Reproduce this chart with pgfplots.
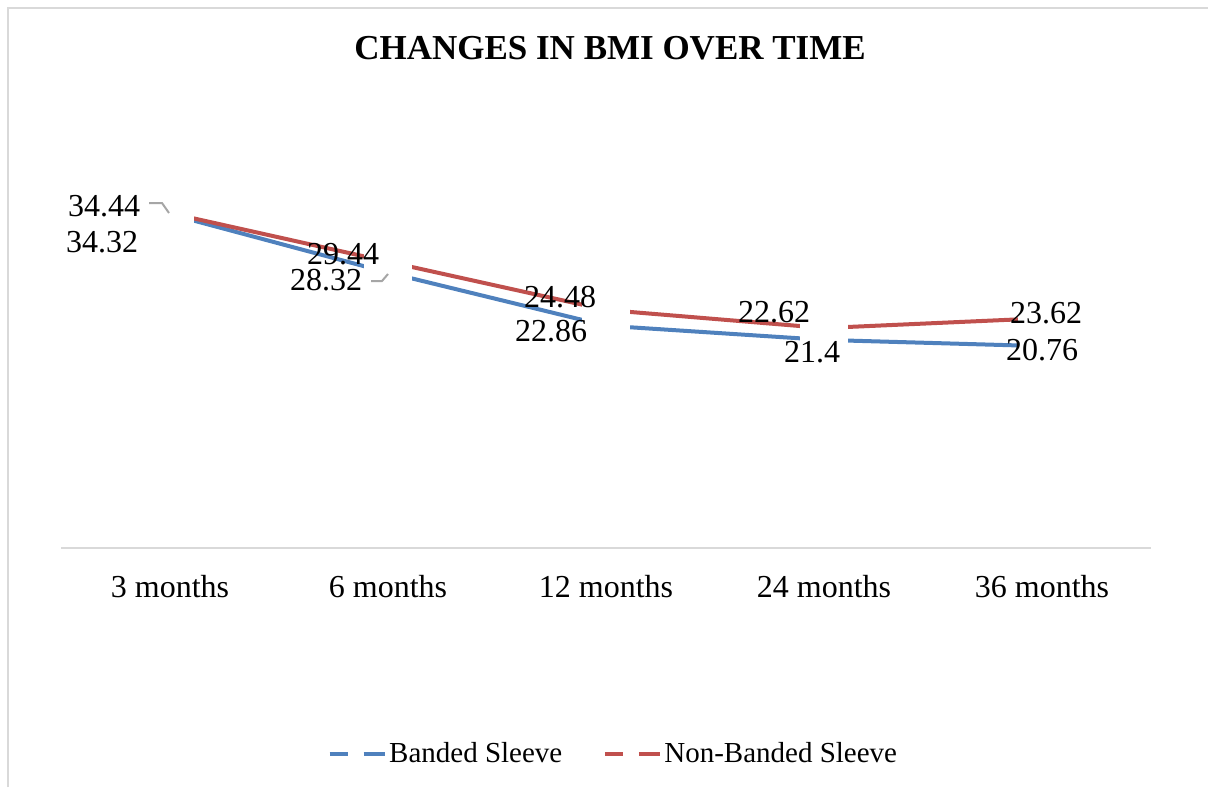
\documentclass[border=0pt]{standalone}
\usepackage{pgfplots}
\usepackage{pgfplotstable}
\pgfplotsset{compat=1.18}
\usepackage{fontspec}
\setmainfont{Liberation Serif}
\definecolor{bblue}{HTML}{4F81BD}
\definecolor{rred}{HTML}{C0504D}
\definecolor{framegray}{HTML}{D9D9D9}
\definecolor{leadgray}{HTML}{A6A6A6}

\pgfplotstableread{
x y
0 34.32
1 28.32
2 22.86
3 21.4
4 20.76
}\banded
\pgfplotstableread{
x y
0 34.44
1 29.44
2 24.48
3 22.62
4 23.62
}\nonbanded

\pgfplotsset{
  labelat/.style 2 args={draw=none, mark=none, forget plot,
    point meta=explicit symbolic,
    nodes near coords={\pgfplotspointmeta},
    nodes near coords style={anchor=center, inner sep=0pt, xshift=#1, yshift=#2,
      font=\fontsize{16}{19}\selectfont, text=black}},
}

\begin{document}
\begin{tikzpicture}
\useasboundingbox (0,0) rectangle (604pt,-393.5pt);
\draw[framegray, line width=1pt] (3.75pt,-393.5pt) -- (3.75pt,-3.75pt) -- (604pt,-3.75pt);
\begin{axis}[
  at={(30.5pt,-274pt)}, anchor=south west,
  width=545pt, height=194.5pt, scale only axis,
  xmin=-0.5, xmax=4.5, ymin=0, ymax=40,
  axis x line*=bottom, axis y line=none,
  x axis line style={framegray, line width=1pt},
  xtick={0,1,2,3,4},
  xticklabels={3 months,6 months,12 months,24 months,36 months},
  major tick length=0pt,
  xticklabel shift=13.5pt,
  xticklabel style={inner sep=0pt, anchor=north, font=\fontsize{16}{19}\selectfont},
  clip=false,
  title={\textbf{CHANGES IN BMI OVER TIME}},
  every axis title/.style={at={(axis description cs:0.5037,1.285)}, anchor=center, inner sep=0pt, font=\fontsize{17.5}{21}\selectfont},
  legend columns=2,
  legend style={at={(axis description cs:0.507,-0.53)}, anchor=center, draw=none, fill=none,
    font=\fontsize{14.5}{17}\selectfont,
    nodes={inner sep=1.25pt},
    /tikz/every even column/.append style={column sep=19pt}},
  legend image code/.code={\draw[#1, mark=none] (0pt,0pt) -- (9pt,0pt) (17pt,0pt) -- (27.5pt,0pt);},
]
\addplot[bblue, line width=2pt, mark=square*, mark size=11.75pt, mark options={fill=white, draw=white, line width=0.1pt}] table[x=x,y=y] {\banded};
\addlegendentry{Banded Sleeve}
\addplot[rred, line width=2pt, mark=square*, mark size=11.75pt, mark options={fill=white, draw=white, line width=0.1pt}] table[x=x,y=y] {\nonbanded};
\addlegendentry{Non-Banded Sleeve}
% data labels, non-banded
\addplot[labelat={-33pt}{3.5pt}] coordinates {(0,34.44) [34.44]};
\addplot[labelat={-22.5pt}{4pt}] coordinates {(1,29.44) [29.44]};
\addplot[labelat={-23pt}{6.5pt}] coordinates {(2,24.48) [24.48]};
\addplot[labelat={-25pt}{8pt}] coordinates {(3,22.62) [22.62]};
\addplot[labelat={2pt}{2.5pt}] coordinates {(4,23.62) [23.62]};
% data labels, banded
\addplot[labelat={-34pt}{-14pt}] coordinates {(0,34.32) [34.32]};
\addplot[labelat={-31pt}{-3.5pt}] coordinates {(1,28.32) [28.32]};
\addplot[labelat={-27.5pt}{-2.5pt}] coordinates {(2,22.86) [22.86]};
\addplot[labelat={-6pt}{-6pt}] coordinates {(3,21.4) [21.4]};
\addplot[labelat={0pt}{-2pt}] coordinates {(4,20.76) [20.76]};
\end{axis}
\draw[leadgray, line width=1pt] (74.5pt,-101.5pt) -- (81pt,-101.5pt) -- (84.5pt,-106.5pt);
\draw[leadgray, line width=1pt] (185.5pt,-140.5pt) -- (191pt,-140.5pt) -- (194pt,-137pt);
\end{tikzpicture}
\end{document}
